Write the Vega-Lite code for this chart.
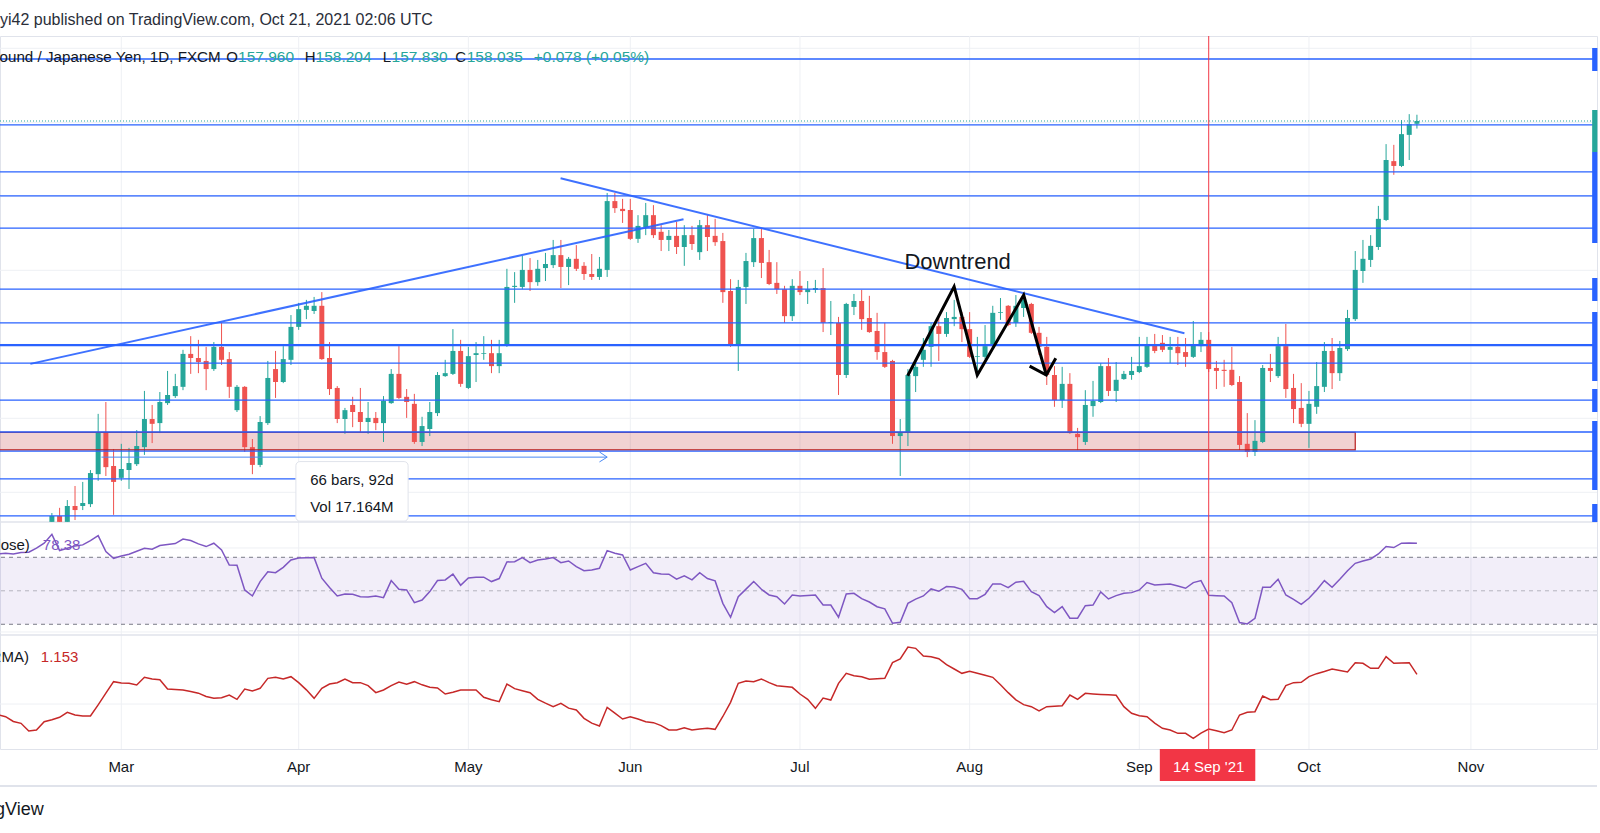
{
"$schema":"https://vega.github.io/schema/vega-lite/v6.json",
"width":1597,"height":713,
"autosize":{"type":"none"},
"padding":{"left":0,"top":36,"right":3,"bottom":84},
"background":"white",
"config":{"view":{"stroke":"#e0e3eb"},"font":"Liberation Sans"},
"title":{"text":"yi42 published on TradingView.com, Oct 21, 2021 02:06 UTC","anchor":"start","frame":"group","orient":"top","offset":0,"baseline":"middle","fontSize":16,"fontWeight":"normal","font":"Liberation Sans","color":"#2a2e39"},
"resolve":{"scale":{"y":"independent"}},
"datasets":{
"months":[{"i":0,"t":"Mar"},{"i":23,"t":"Apr"},{"i":45,"t":"May"},{"i":66,"t":"Jun"},{"i":88,"t":"Jul"},{"i":110,"t":"Aug"},{"i":132,"t":"Sep"},{"i":154,"t":"Oct"},{"i":175,"t":"Nov"}],
"c":[
{"i":-9,"o":147.20,"h":147.44,"l":147.20,"c":147.36},
{"i":-8,"o":147.36,"h":147.58,"l":147.20,"c":147.20},
{"i":-7,"o":147.20,"h":147.79,"l":147.20,"c":147.63},
{"i":-6,"o":147.63,"h":148.17,"l":147.25,"c":147.52},
{"i":-5,"o":147.63,"h":148.28,"l":147.52,"c":147.71},
{"i":-4,"o":147.68,"h":148.60,"l":147.60,"c":148.52},
{"i":-3,"o":148.49,"h":150.12,"l":148.31,"c":149.63},
{"i":-2,"o":149.63,"h":150.44,"l":148.44,"c":148.68},
{"i":-1,"o":148.71,"h":149.17,"l":147.39,"c":148.28},
{"i":0,"o":148.39,"h":149.31,"l":148.31,"c":148.63},
{"i":1,"o":148.60,"h":149.20,"l":148.09,"c":148.79},
{"i":2,"o":148.76,"h":149.68,"l":148.71,"c":149.25},
{"i":3,"o":149.22,"h":150.74,"l":149.01,"c":149.98},
{"i":4,"o":149.98,"h":150.36,"l":149.33,"c":149.85},
{"i":5,"o":149.87,"h":150.71,"l":149.60,"c":150.44},
{"i":6,"o":150.41,"h":151.28,"l":150.36,"c":150.63},
{"i":7,"o":150.60,"h":151.20,"l":150.55,"c":150.87},
{"i":8,"o":150.85,"h":151.85,"l":150.76,"c":151.74},
{"i":9,"o":151.74,"h":152.22,"l":151.20,"c":151.63},
{"i":10,"o":151.63,"h":152.12,"l":151.22,"c":151.52},
{"i":11,"o":151.55,"h":151.93,"l":150.76,"c":151.33},
{"i":12,"o":151.33,"h":152.06,"l":151.28,"c":151.93},
{"i":13,"o":151.93,"h":152.58,"l":151.44,"c":151.58},
{"i":14,"o":151.60,"h":151.79,"l":150.55,"c":150.85},
{"i":15,"o":150.22,"h":150.90,"l":150.17,"c":150.85},
{"i":16,"o":150.85,"h":150.87,"l":149.09,"c":149.22},
{"i":17,"o":149.22,"h":149.44,"l":148.49,"c":148.74},
{"i":18,"o":148.74,"h":150.06,"l":148.68,"c":149.90},
{"i":19,"o":149.87,"h":151.55,"l":149.82,"c":151.09},
{"i":20,"o":151.33,"h":151.82,"l":150.55,"c":150.98},
{"i":21,"o":150.98,"h":151.95,"l":150.95,"c":151.60},
{"i":22,"o":151.58,"h":152.79,"l":151.44,"c":152.47},
{"i":23,"o":152.47,"h":153.12,"l":152.39,"c":152.95},
{"i":24,"o":152.93,"h":153.20,"l":152.68,"c":153.04},
{"i":25,"o":152.90,"h":153.28,"l":152.82,"c":153.04},
{"i":26,"o":153.04,"h":153.41,"l":151.58,"c":151.60},
{"i":27,"o":151.63,"h":152.06,"l":150.63,"c":150.79},
{"i":28,"o":150.82,"h":150.87,"l":149.87,"c":149.98},
{"i":29,"o":149.98,"h":150.28,"l":149.58,"c":150.22},
{"i":30,"o":150.36,"h":150.58,"l":149.76,"c":150.17},
{"i":31,"o":150.17,"h":150.82,"l":149.63,"c":149.90},
{"i":32,"o":149.90,"h":150.44,"l":149.58,"c":150.01},
{"i":33,"o":150.01,"h":150.17,"l":149.68,"c":149.87},
{"i":34,"o":149.87,"h":150.60,"l":149.36,"c":150.47},
{"i":35,"o":150.41,"h":151.33,"l":150.39,"c":151.20},
{"i":36,"o":151.20,"h":151.95,"l":150.52,"c":150.55},
{"i":37,"o":150.58,"h":150.79,"l":150.01,"c":150.44},
{"i":38,"o":150.39,"h":150.66,"l":149.31,"c":149.36},
{"i":39,"o":149.36,"h":150.04,"l":149.25,"c":149.79},
{"i":40,"o":149.71,"h":150.44,"l":149.52,"c":150.17},
{"i":41,"o":150.14,"h":151.25,"l":150.06,"c":151.17},
{"i":42,"o":151.14,"h":151.58,"l":151.12,"c":151.22},
{"i":43,"o":151.20,"h":152.41,"l":151.17,"c":151.82},
{"i":44,"o":151.82,"h":152.12,"l":150.85,"c":150.93},
{"i":45,"o":150.82,"h":151.93,"l":150.79,"c":151.68},
{"i":46,"o":151.71,"h":152.06,"l":150.98,"c":151.76},
{"i":47,"o":151.74,"h":152.22,"l":151.58,"c":151.76},
{"i":48,"o":151.76,"h":152.12,"l":151.22,"c":151.41},
{"i":49,"o":151.41,"h":152.12,"l":151.22,"c":151.76},
{"i":50,"o":151.98,"h":154.04,"l":151.93,"c":153.55},
{"i":51,"o":153.55,"h":153.95,"l":153.12,"c":153.58},
{"i":52,"o":153.55,"h":154.39,"l":153.49,"c":154.01},
{"i":53,"o":154.01,"h":154.33,"l":153.44,"c":153.68},
{"i":54,"o":153.68,"h":154.28,"l":153.58,"c":154.04},
{"i":55,"o":154.06,"h":154.47,"l":153.71,"c":154.17},
{"i":56,"o":154.14,"h":154.82,"l":154.06,"c":154.41},
{"i":57,"o":154.41,"h":154.82,"l":153.52,"c":154.09},
{"i":58,"o":154.09,"h":154.36,"l":153.60,"c":154.31},
{"i":59,"o":154.31,"h":154.68,"l":153.98,"c":154.04},
{"i":60,"o":154.12,"h":154.22,"l":153.74,"c":153.90},
{"i":61,"o":153.90,"h":154.44,"l":153.74,"c":153.82},
{"i":62,"o":153.82,"h":154.36,"l":153.74,"c":154.04},
{"i":63,"o":154.01,"h":156.09,"l":153.82,"c":155.87},
{"i":64,"o":155.87,"h":156.09,"l":155.55,"c":155.68},
{"i":65,"o":155.66,"h":155.93,"l":155.28,"c":155.60},
{"i":66,"o":155.63,"h":155.93,"l":154.82,"c":154.85},
{"i":67,"o":154.85,"h":155.49,"l":154.74,"c":155.20},
{"i":68,"o":155.17,"h":155.82,"l":154.95,"c":155.49},
{"i":69,"o":155.49,"h":155.76,"l":154.87,"c":154.95},
{"i":70,"o":155.04,"h":155.22,"l":154.52,"c":154.82},
{"i":71,"o":154.82,"h":155.09,"l":154.52,"c":154.93},
{"i":72,"o":154.93,"h":155.31,"l":154.44,"c":154.63},
{"i":73,"o":154.63,"h":155.22,"l":154.12,"c":154.95},
{"i":74,"o":154.95,"h":155.20,"l":154.55,"c":154.71},
{"i":75,"o":154.49,"h":155.36,"l":154.28,"c":155.22},
{"i":76,"o":155.22,"h":155.49,"l":154.52,"c":154.90},
{"i":77,"o":154.93,"h":155.39,"l":154.66,"c":154.76},
{"i":78,"o":154.79,"h":155.01,"l":153.12,"c":153.41},
{"i":79,"o":153.44,"h":153.76,"l":151.93,"c":151.98},
{"i":80,"o":151.98,"h":153.74,"l":151.28,"c":153.55},
{"i":81,"o":153.55,"h":154.47,"l":153.09,"c":154.25},
{"i":82,"o":154.22,"h":155.12,"l":154.09,"c":154.87},
{"i":83,"o":154.87,"h":155.12,"l":153.79,"c":154.20},
{"i":84,"o":154.22,"h":154.55,"l":153.60,"c":153.63},
{"i":85,"o":153.66,"h":154.22,"l":153.36,"c":153.49},
{"i":86,"o":153.49,"h":153.58,"l":152.58,"c":152.76},
{"i":87,"o":152.76,"h":153.76,"l":152.63,"c":153.58},
{"i":88,"o":153.58,"h":153.98,"l":153.33,"c":153.41},
{"i":89,"o":153.41,"h":153.71,"l":153.09,"c":153.49},
{"i":90,"o":153.47,"h":153.74,"l":153.39,"c":153.52},
{"i":91,"o":153.52,"h":154.06,"l":152.33,"c":152.58},
{"i":92,"o":152.58,"h":153.17,"l":152.25,"c":152.60},
{"i":93,"o":152.58,"h":152.74,"l":150.63,"c":151.17},
{"i":94,"o":151.17,"h":153.12,"l":151.09,"c":153.09},
{"i":95,"o":153.01,"h":153.36,"l":152.79,"c":153.17},
{"i":96,"o":153.17,"h":153.47,"l":152.39,"c":152.68},
{"i":97,"o":152.71,"h":153.31,"l":152.31,"c":152.33},
{"i":98,"o":152.36,"h":152.85,"l":151.58,"c":151.79},
{"i":99,"o":151.79,"h":152.58,"l":151.36,"c":151.39},
{"i":100,"o":151.55,"h":151.58,"l":149.31,"c":149.52},
{"i":101,"o":149.52,"h":149.98,"l":148.44,"c":149.60},
{"i":102,"o":149.63,"h":151.33,"l":149.25,"c":151.17},
{"i":103,"o":151.14,"h":151.52,"l":150.71,"c":151.39},
{"i":104,"o":151.58,"h":152.17,"l":151.39,"c":151.85},
{"i":105,"o":151.93,"h":152.58,"l":151.39,"c":152.49},
{"i":106,"o":152.49,"h":152.74,"l":151.55,"c":152.28},
{"i":107,"o":152.28,"h":152.87,"l":152.20,"c":152.71},
{"i":108,"o":152.68,"h":153.20,"l":152.49,"c":152.74},
{"i":109,"o":152.74,"h":152.87,"l":152.06,"c":152.41},
{"i":110,"o":152.41,"h":152.87,"l":151.63,"c":151.66},
{"i":111,"o":151.66,"h":152.20,"l":151.28,"c":151.68},
{"i":112,"o":151.66,"h":152.52,"l":151.60,"c":151.95},
{"i":113,"o":151.95,"h":153.04,"l":151.93,"c":152.85},
{"i":114,"o":152.85,"h":153.25,"l":152.66,"c":152.87},
{"i":115,"o":153.04,"h":153.06,"l":152.49,"c":152.52},
{"i":116,"o":152.58,"h":153.33,"l":152.47,"c":153.04},
{"i":117,"o":152.98,"h":153.39,"l":152.74,"c":153.20},
{"i":118,"o":153.09,"h":153.12,"l":152.28,"c":152.31},
{"i":119,"o":152.31,"h":152.47,"l":151.71,"c":151.93},
{"i":120,"o":151.93,"h":152.20,"l":150.90,"c":151.17},
{"i":121,"o":151.17,"h":151.41,"l":150.31,"c":150.49},
{"i":122,"o":150.49,"h":151.39,"l":150.28,"c":150.93},
{"i":123,"o":150.93,"h":151.22,"l":149.58,"c":149.60},
{"i":124,"o":149.58,"h":149.74,"l":149.14,"c":149.49},
{"i":125,"o":149.36,"h":150.76,"l":149.28,"c":150.36},
{"i":126,"o":150.33,"h":151.01,"l":150.04,"c":150.47},
{"i":127,"o":150.44,"h":151.49,"l":150.41,"c":151.41},
{"i":128,"o":151.41,"h":151.63,"l":150.60,"c":150.74},
{"i":129,"o":150.74,"h":151.52,"l":150.44,"c":151.04},
{"i":130,"o":151.06,"h":151.28,"l":151.04,"c":151.20},
{"i":131,"o":151.17,"h":151.66,"l":151.04,"c":151.28},
{"i":132,"o":151.25,"h":152.20,"l":151.22,"c":151.41},
{"i":133,"o":151.39,"h":152.20,"l":151.36,"c":151.98},
{"i":134,"o":151.98,"h":152.28,"l":151.76,"c":151.82},
{"i":135,"o":152.04,"h":152.25,"l":151.79,"c":151.85},
{"i":136,"o":151.85,"h":152.20,"l":151.49,"c":151.93},
{"i":137,"o":151.93,"h":152.20,"l":151.44,"c":151.76},
{"i":138,"o":151.79,"h":152.17,"l":151.39,"c":151.66},
{"i":139,"o":151.66,"h":152.63,"l":151.63,"c":151.98},
{"i":140,"o":151.95,"h":152.33,"l":151.79,"c":152.12},
{"i":141,"o":152.12,"h":152.33,"l":151.25,"c":151.33},
{"i":142,"o":151.36,"h":151.55,"l":150.79,"c":151.28},
{"i":143,"o":151.31,"h":151.58,"l":150.85,"c":151.28},
{"i":144,"o":151.31,"h":151.93,"l":150.87,"c":150.90},
{"i":145,"o":150.98,"h":151.14,"l":149.14,"c":149.28},
{"i":146,"o":149.31,"h":150.14,"l":148.95,"c":149.09},
{"i":147,"o":149.09,"h":149.95,"l":148.98,"c":149.39},
{"i":148,"o":149.36,"h":151.44,"l":149.33,"c":151.36},
{"i":149,"o":151.36,"h":151.74,"l":150.98,"c":151.28},
{"i":150,"o":151.14,"h":152.20,"l":151.09,"c":151.95},
{"i":151,"o":151.95,"h":152.55,"l":150.55,"c":150.79},
{"i":152,"o":150.82,"h":151.20,"l":149.87,"c":150.25},
{"i":153,"o":150.28,"h":150.95,"l":149.76,"c":149.85},
{"i":154,"o":149.85,"h":150.74,"l":149.20,"c":150.39},
{"i":155,"o":150.31,"h":151.52,"l":150.12,"c":150.87},
{"i":156,"o":150.85,"h":152.06,"l":150.71,"c":151.82},
{"i":157,"o":151.82,"h":152.17,"l":150.79,"c":151.22},
{"i":158,"o":151.22,"h":152.09,"l":151.01,"c":151.90},
{"i":159,"o":151.87,"h":152.93,"l":151.82,"c":152.71},
{"i":160,"o":152.68,"h":154.52,"l":152.63,"c":154.01},
{"i":161,"o":153.98,"h":154.82,"l":153.66,"c":154.31},
{"i":162,"o":154.28,"h":154.95,"l":154.09,"c":154.66},
{"i":163,"o":154.63,"h":155.74,"l":154.55,"c":155.39},
{"i":164,"o":155.36,"h":157.41,"l":155.33,"c":156.98},
{"i":165,"o":156.95,"h":157.39,"l":156.58,"c":156.82},
{"i":166,"o":156.82,"h":158.06,"l":156.79,"c":157.68},
{"i":167,"o":157.66,"h":158.22,"l":156.98,"c":157.95},
{"i":168,"o":157.96,"h":158.204,"l":157.83,"c":158.035}
],
"ind":[
{"i":-16,"r":72.0,"a":0.91},{"i":-15,"r":72.4,"a":0.899},{"i":-14,"r":72.0,"a":0.87},{"i":-13,"r":72.8,"a":0.859},{"i":-12,"r":73.0,"a":0.813},{"i":-11,"r":75.5,"a":0.819},{"i":-10,"r":78.4,"a":0.869},{"i":-9,"r":83.7,"a":0.88},{"i":-8,"r":74.0,"a":0.895},{"i":-7,"r":75.4,"a":0.925},{"i":-6,"r":76.8,"a":0.909},{"i":-5,"r":77.4,"a":0.903},{"i":-4,"r":80.0,"a":0.903},{"i":-3,"r":82.9,"a":0.97},{"i":-2,"r":73.4,"a":1.04},{"i":-1,"r":69.4,"a":1.109},
{"i":0,"r":70.8,"a":1.101},{"i":1,"r":71.8,"a":1.099},{"i":2,"r":73.6,"a":1.089},{"i":3,"r":75.4,"a":1.135},{"i":4,"r":74.8,"a":1.125},{"i":5,"r":77.0,"a":1.12},{"i":6,"r":77.6,"a":1.065},{"i":7,"r":78.2,"a":1.062},{"i":8,"r":80.9,"a":1.059},{"i":9,"r":80.0,"a":1.05},{"i":10,"r":78.0,"a":1.04},{"i":11,"r":76.4,"a":1.02},{"i":12,"r":78.4,"a":1.009},{"i":13,"r":74.4,"a":1.013},{"i":14,"r":65.4,"a":1.029},{"i":15,"r":65.2,"a":1.003},{"i":16,"r":50.5,"a":1.065},{"i":17,"r":46.9,"a":1.053},{"i":18,"r":55.5,"a":1.069},{"i":19,"r":61.4,"a":1.129},
{"i":20,"r":60.8,"a":1.135},{"i":21,"r":64.0,"a":1.125},{"i":22,"r":68.4,"a":1.139},{"i":23,"r":69.6,"a":1.103},{"i":24,"r":69.7,"a":1.06},{"i":25,"r":69.8,"a":1.009},{"i":26,"r":57.5,"a":1.069},{"i":27,"r":52.0,"a":1.095},{"i":28,"r":46.9,"a":1.103},{"i":29,"r":48.1,"a":1.125},{"i":30,"r":47.9,"a":1.103},{"i":31,"r":46.5,"a":1.103},{"i":32,"r":46.3,"a":1.085},{"i":33,"r":46.9,"a":1.043},{"i":34,"r":45.9,"a":1.059},{"i":35,"r":56.1,"a":1.085},{"i":36,"r":50.9,"a":1.107},{"i":37,"r":50.5,"a":1.093},{"i":38,"r":42.9,"a":1.109},{"i":39,"r":44.5,"a":1.09},
{"i":40,"r":49.5,"a":1.075},{"i":41,"r":56.1,"a":1.071},{"i":42,"r":56.5,"a":1.035},{"i":43,"r":60.0,"a":1.045},{"i":44,"r":53.3,"a":1.059},{"i":45,"r":57.7,"a":1.059},{"i":46,"r":58.1,"a":1.059},{"i":47,"r":58.1,"a":1.015},{"i":48,"r":55.5,"a":1.0},{"i":49,"r":57.3,"a":0.989},{"i":50,"r":67.2,"a":1.095},{"i":51,"r":67.4,"a":1.067},{"i":52,"r":69.8,"a":1.055},{"i":53,"r":66.8,"a":1.043},{"i":54,"r":68.4,"a":1.003},{"i":55,"r":69.0,"a":0.98},{"i":56,"r":69.8,"a":0.959},{"i":57,"r":66.8,"a":0.979},{"i":58,"r":67.8,"a":0.95},{"i":59,"r":64.4,"a":0.939},
{"i":60,"r":62.0,"a":0.889},{"i":61,"r":62.4,"a":0.86},{"i":62,"r":63.4,"a":0.843},{"i":63,"r":74.0,"a":0.955},{"i":64,"r":72.4,"a":0.92},{"i":65,"r":71.4,"a":0.885},{"i":66,"r":62.4,"a":0.899},{"i":67,"r":64.4,"a":0.885},{"i":68,"r":66.4,"a":0.869},{"i":69,"r":60.8,"a":0.863},{"i":70,"r":60.0,"a":0.845},{"i":71,"r":59.9,"a":0.819},{"i":72,"r":56.9,"a":0.819},{"i":73,"r":58.9,"a":0.833},{"i":74,"r":56.5,"a":0.819},{"i":75,"r":60.8,"a":0.825},{"i":76,"r":57.3,"a":0.829},{"i":77,"r":55.9,"a":0.823},{"i":78,"r":42.5,"a":0.9},{"i":79,"r":34.2,"a":0.985},
{"i":80,"r":46.5,"a":1.099},{"i":81,"r":51.0,"a":1.113},{"i":82,"r":55.5,"a":1.109},{"i":83,"r":50.9,"a":1.125},{"i":84,"r":47.5,"a":1.103},{"i":85,"r":46.5,"a":1.085},{"i":86,"r":42.1,"a":1.08},{"i":87,"r":47.5,"a":1.075},{"i":88,"r":46.9,"a":1.035},{"i":89,"r":47.2,"a":1.003},{"i":90,"r":47.5,"a":0.949},{"i":91,"r":41.5,"a":1.011},{"i":92,"r":41.5,"a":0.999},{"i":93,"r":34.2,"a":1.099},{"i":94,"r":48.1,"a":1.159},{"i":95,"r":48.5,"a":1.145},{"i":96,"r":45.3,"a":1.139},{"i":97,"r":43.3,"a":1.123},{"i":98,"r":40.5,"a":1.126},{"i":99,"r":39.2,"a":1.129},
{"i":100,"r":30.6,"a":1.223},{"i":101,"r":31.2,"a":1.245},{"i":102,"r":42.5,"a":1.317},{"i":103,"r":45.0,"a":1.309},{"i":104,"r":46.9,"a":1.263},{"i":105,"r":51.1,"a":1.259},{"i":106,"r":49.7,"a":1.247},{"i":107,"r":52.5,"a":1.211},{"i":108,"r":52.3,"a":1.185},{"i":109,"r":50.9,"a":1.159},{"i":110,"r":45.3,"a":1.171},{"i":111,"r":45.3,"a":1.159},{"i":112,"r":47.9,"a":1.147},{"i":113,"r":54.1,"a":1.135},{"i":114,"r":54.1,"a":1.09},{"i":115,"r":51.9,"a":1.043},{"i":116,"r":55.1,"a":1.0},{"i":117,"r":55.7,"a":0.971},{"i":118,"r":49.5,"a":0.959},{"i":119,"r":47.1,"a":0.933},
{"i":120,"r":40.5,"a":0.959},{"i":121,"r":37.0,"a":0.962},{"i":122,"r":40.5,"a":0.965},{"i":123,"r":33.6,"a":1.029},{"i":124,"r":33.6,"a":1.003},{"i":125,"r":41.1,"a":1.039},{"i":126,"r":41.5,"a":1.035},{"i":127,"r":49.3,"a":1.032},{"i":128,"r":45.1,"a":1.03},{"i":129,"r":47.1,"a":1.027},{"i":130,"r":48.5,"a":0.959},{"i":131,"r":48.9,"a":0.919},{"i":132,"r":50.5,"a":0.905},{"i":133,"r":54.9,"a":0.899},{"i":134,"r":53.5,"a":0.86},{"i":135,"r":53.8,"a":0.829},{"i":136,"r":54.1,"a":0.819},{"i":137,"r":52.9,"a":0.799},{"i":138,"r":51.5,"a":0.799},{"i":139,"r":54.9,"a":0.769},
{"i":140,"r":56.1,"a":0.8},{"i":141,"r":47.3,"a":0.825},{"i":142,"r":47.1,"a":0.815},{"i":143,"r":46.9,"a":0.803},{"i":144,"r":42.9,"a":0.819},{"i":145,"r":31.0,"a":0.909},{"i":146,"r":30.2,"a":0.925},{"i":147,"r":33.6,"a":0.929},{"i":148,"r":52.1,"a":1.023},{"i":149,"r":52.1,"a":1.001},{"i":150,"r":56.9,"a":1.003},{"i":151,"r":47.5,"a":1.085},{"i":152,"r":44.9,"a":1.103},{"i":153,"r":41.9,"a":1.105},{"i":154,"r":45.5,"a":1.139},{"i":155,"r":50.5,"a":1.157},{"i":156,"r":56.1,"a":1.17},{"i":157,"r":52.1,"a":1.185},{"i":158,"r":56.9,"a":1.176},{"i":159,"r":62.0,"a":1.167},
{"i":160,"r":66.4,"a":1.223},{"i":161,"r":67.8,"a":1.219},{"i":162,"r":69.0,"a":1.189},{"i":163,"r":72.0,"a":1.189},{"i":164,"r":76.4,"a":1.259},{"i":165,"r":75.8,"a":1.219},{"i":166,"r":78.4,"a":1.221},{"i":167,"r":78.6,"a":1.223},{"i":168,"r":78.38,"a":1.153}
]
},
"layer":[
{"data":{"name":"months"},
 "mark":{"type":"rule","color":"#eef0f4","strokeWidth":1},
 "encoding":{"x":{"field":"i","type":"quantitative","scale":{"domain":[-15.08,190.7],"nice":false,"zero":false},"axis":null}}},
{"data":{"values":[{"p":148},{"p":150},{"p":152},{"p":154},{"p":156},{"p":158},{"p":160}]},
 "mark":{"type":"rule","color":"#eef0f4","strokeWidth":1},
 "encoding":{"y":{"field":"p","type":"quantitative","scale":{"domain":[147.197,160.332],"range":[486,0],"nice":false,"zero":false},"axis":null}}},
{"data":{"values":[{"hi":70,"lo":30}]},
 "mark":{"type":"rect","color":"#7e57c2","opacity":0.1},
 "encoding":{"y":{"field":"hi","type":"quantitative","scale":{"domain":[23.6,91.07],"range":[599,486],"nice":false,"zero":false},"axis":null},"y2":{"field":"lo"}}},
{"data":{"values":[{"r":75.55},{"r":25.4}]},
 "mark":{"type":"rule","color":"#eef0f4","strokeWidth":1},
 "encoding":{"y":{"field":"r","type":"quantitative","scale":{"domain":[23.6,91.07],"range":[599,486],"nice":false,"zero":false},"axis":null}}},
{"data":{"values":[{"a":0.975}]},
 "mark":{"type":"rule","color":"#eef0f4","strokeWidth":1},
 "encoding":{"y":{"field":"a","type":"quantitative","scale":{"domain":[0.705,1.389],"range":[713,599],"nice":false,"zero":false},"axis":null}}},
{"data":{"values":[{"r":91.07},{"r":23.6}]},
 "mark":{"type":"rule","color":"#e0e3eb","strokeWidth":1.5},
 "encoding":{"y":{"field":"r","type":"quantitative","scale":{"domain":[23.6,91.07],"range":[599,486],"nice":false,"zero":false},"axis":null}}},
{"data":{"values":[{"r":70},{"r":30}]},
 "mark":{"type":"rule","color":"#787b86","strokeWidth":1,"strokeDash":[4,4]},
 "encoding":{"y":{"field":"r","type":"quantitative","scale":{"domain":[23.6,91.07],"range":[599,486],"nice":false,"zero":false},"axis":null}}},
{"data":{"values":[{"r":50}]},
 "mark":{"type":"rule","color":"#787b86","opacity":0.5,"strokeWidth":1,"strokeDash":[4,4]},
 "encoding":{"y":{"field":"r","type":"quantitative","scale":{"domain":[23.6,91.07],"range":[599,486],"nice":false,"zero":false},"axis":null}}},
{"data":{"values":[{"i":-16,"i2":160,"p1":149.62,"p2":149.145}]},
 "mark":{"type":"rect","color":"#b71c1c","opacity":0.2},
 "encoding":{"x":{"field":"i","type":"quantitative","scale":{"domain":[-15.08,190.7],"nice":false,"zero":false},"axis":null},"x2":{"field":"i2"},
  "y":{"field":"p1","type":"quantitative","scale":{"domain":[147.197,160.332],"range":[486,0],"nice":false,"zero":false},"axis":null},"y2":{"field":"p2"}}},
{"data":{"name":"c"},
 "mark":{"type":"rule","strokeWidth":1},
 "encoding":{"x":{"field":"i","type":"quantitative","scale":{"domain":[-15.08,190.7],"nice":false,"zero":false},"axis":null},
  "y":{"field":"l","type":"quantitative","scale":{"domain":[147.197,160.332],"range":[486,0],"nice":false,"zero":false},"axis":null},"y2":{"field":"h"},
  "color":{"condition":{"test":"datum.c >= datum.o","value":"#26a69a"},"value":"#ef5350"}}},
{"data":{"name":"c"},
 "mark":{"type":"bar","width":5},
 "encoding":{"x":{"field":"i","type":"quantitative","scale":{"domain":[-15.08,190.7],"nice":false,"zero":false},"axis":null},
  "y":{"field":"o","type":"quantitative","scale":{"domain":[147.197,160.332],"range":[486,0],"nice":false,"zero":false},"axis":null},"y2":{"field":"c"},
  "color":{"condition":{"test":"datum.c >= datum.o","value":"#26a69a"},"value":"#ef5350"}}},
{"data":{"values":[{"i":-16,"i2":160,"p1":149.62,"p2":149.145}]},
 "mark":{"type":"rect","fill":null,"fillOpacity":0,"stroke":"#b71c1c","strokeWidth":1.2},
 "encoding":{"x":{"field":"i","type":"quantitative","scale":{"domain":[-15.08,190.7],"nice":false,"zero":false},"axis":null},"x2":{"field":"i2"},
  "y":{"field":"p1","type":"quantitative","scale":{"domain":[147.197,160.332],"range":[486,0],"nice":false,"zero":false},"axis":null},"y2":{"field":"p2"}}},
{"data":{"values":[{"p":159.71},{"p":157.93},{"p":156.66},{"p":156.01},{"p":155.14},{"p":153.49},{"p":152.58},{"p":151.49},{"p":150.49},{"p":149.63},{"p":149.115},{"p":148.36},{"p":147.36}]},
 "mark":{"type":"rule","color":"#2962ff","strokeWidth":1.3},
 "encoding":{"y":{"field":"p","type":"quantitative","scale":{"domain":[147.197,160.332],"range":[486,0],"nice":false,"zero":false},"axis":null}}},
{"data":{"values":[{"p":151.98}]},
 "mark":{"type":"rule","color":"#2962ff","strokeWidth":2.2},
 "encoding":{"y":{"field":"p","type":"quantitative","scale":{"domain":[147.197,160.332],"range":[486,0],"nice":false,"zero":false},"axis":null}}},
{"data":{"values":[{"p":158.035}]},
 "mark":{"type":"rule","color":"#26a69a","strokeWidth":1,"strokeDash":[1,2]},
 "encoding":{"y":{"field":"p","type":"quantitative","scale":{"domain":[147.197,160.332],"range":[486,0],"nice":false,"zero":false},"axis":null}}},
{"data":{"values":[{"i":190.72,"i2":191.4,"p1":160.008,"p2":159.386},{"i":190.72,"i2":191.4,"p1":157.197,"p2":154.737},{"i":190.72,"i2":191.4,"p1":153.791,"p2":153.170},{"i":190.72,"i2":191.4,"p1":152.873,"p2":151.008},{"i":190.72,"i2":191.4,"p1":150.791,"p2":150.170},{"i":190.72,"i2":191.4,"p1":149.927,"p2":148.062},{"i":190.72,"i2":191.4,"p1":147.683,"p2":147.197}]},
 "mark":{"type":"rect","color":"#2962ff"},
 "encoding":{"x":{"field":"i","type":"quantitative","scale":{"domain":[-15.08,190.7],"nice":false,"zero":false},"axis":null},"x2":{"field":"i2"},
  "y":{"field":"p1","type":"quantitative","scale":{"domain":[147.197,160.332],"range":[486,0],"nice":false,"zero":false},"axis":null},"y2":{"field":"p2"}}},
{"data":{"values":[{"i":190.72,"i2":191.4,"p1":158.332,"p2":157.197}]},
 "mark":{"type":"rect","color":"#26a69a"},
 "encoding":{"x":{"field":"i","type":"quantitative","scale":{"domain":[-15.08,190.7],"nice":false,"zero":false},"axis":null},"x2":{"field":"i2"},
  "y":{"field":"p1","type":"quantitative","scale":{"domain":[147.197,160.332],"range":[486,0],"nice":false,"zero":false},"axis":null},"y2":{"field":"p2"}}},
{"data":{"values":[{"id":"a","i":-11.79,"p":151.47},{"id":"a","i":72.9,"p":155.38},{"id":"b","i":56.96,"p":156.49},{"id":"b","i":137.85,"p":152.30}]},
 "mark":{"type":"line","color":"#2962ff","strokeWidth":2,"opacity":0.9},
 "encoding":{"x":{"field":"i","type":"quantitative","scale":{"domain":[-15.08,190.7],"nice":false,"zero":false},"axis":null},
  "y":{"field":"p","type":"quantitative","scale":{"domain":[147.197,160.332],"range":[486,0],"nice":false,"zero":false},"axis":null},"detail":{"field":"id"}}},
{"data":{"values":[{"id":"z","k":1,"i":101.97,"p":151.15},{"id":"z","k":2,"i":107.99,"p":153.56},{"id":"z","k":3,"i":110.99,"p":151.17},{"id":"z","k":4,"i":117.01,"p":153.33},{"id":"z","k":5,"i":119.94,"p":151.17},{"id":"h","k":1,"i":117.78,"p":151.41},{"id":"h","k":2,"i":119.94,"p":151.17},{"id":"h","k":3,"i":121.17,"p":151.62}]},
 "mark":{"type":"line","color":"#000000","strokeWidth":3,"strokeJoin":"miter"},
 "encoding":{"x":{"field":"i","type":"quantitative","scale":{"domain":[-15.08,190.7],"nice":false,"zero":false},"axis":null},
  "y":{"field":"p","type":"quantitative","scale":{"domain":[147.197,160.332],"range":[486,0],"nice":false,"zero":false},"axis":null},"detail":{"field":"id"},"order":{"field":"k"}}},
{"data":{"values":[{"id":"l","k":1,"i":-2.58,"p":148.95},{"id":"l","k":2,"i":63.0,"p":148.95},{"id":"h","k":1,"i":62.0,"p":149.09},{"id":"h","k":2,"i":63.0,"p":148.95},{"id":"h","k":3,"i":62.0,"p":148.82}]},
 "mark":{"type":"line","color":"#4a8af4","strokeWidth":1},
 "encoding":{"x":{"field":"i","type":"quantitative","scale":{"domain":[-15.08,190.7],"nice":false,"zero":false},"axis":null},
  "y":{"field":"p","type":"quantitative","scale":{"domain":[147.197,160.332],"range":[486,0],"nice":false,"zero":false},"axis":null},"detail":{"field":"id"},"order":{"field":"k"}}},
{"data":{"values":[{"i":22.64,"i2":37.19,"p1":148.83,"p2":147.22}]},
 "mark":{"type":"rect","fill":"#ffffff","stroke":"#e0e3eb","strokeWidth":1,"cornerRadius":4},
 "encoding":{"x":{"field":"i","type":"quantitative","scale":{"domain":[-15.08,190.7],"nice":false,"zero":false},"axis":null},"x2":{"field":"i2"},
  "y":{"field":"p1","type":"quantitative","scale":{"domain":[147.197,160.332],"range":[486,0],"nice":false,"zero":false},"axis":null},"y2":{"field":"p2"}}},
{"data":{"values":[{"i":29.9,"p":148.33,"t":"66 bars, 92d"},{"i":29.9,"p":147.60,"t":"Vol 17.164M"}]},
 "mark":{"type":"text","font":"Liberation Sans","fontSize":15,"color":"#131722","align":"center","baseline":"middle"},
 "encoding":{"x":{"field":"i","type":"quantitative","scale":{"domain":[-15.08,190.7],"nice":false,"zero":false},"axis":null},
  "y":{"field":"p","type":"quantitative","scale":{"domain":[147.197,160.332],"range":[486,0],"nice":false,"zero":false},"axis":null},"text":{"field":"t"}}},
{"data":{"values":[{"i":101.55,"p":154.035,"t":"Downtrend"}]},
 "mark":{"type":"text","font":"Liberation Sans","fontSize":22,"color":"#131722","align":"left","baseline":"alphabetic"},
 "encoding":{"x":{"field":"i","type":"quantitative","scale":{"domain":[-15.08,190.7],"nice":false,"zero":false},"axis":null},
  "y":{"field":"p","type":"quantitative","scale":{"domain":[147.197,160.332],"range":[486,0],"nice":false,"zero":false},"axis":null},"text":{"field":"t"}}},
{"data":{"values":[{"i":12.89,"p":159.76,"t":"British Pound / Japanese Yen, 1D, FXCM"}]},
 "mark":{"type":"text","font":"Liberation Sans","fontSize":15.2,"color":"#131722","align":"right","baseline":"middle"},
 "encoding":{"x":{"field":"i","type":"quantitative","scale":{"domain":[-15.08,190.7],"nice":false,"zero":false},"axis":null},
  "y":{"field":"p","type":"quantitative","scale":{"domain":[147.197,160.332],"range":[486,0],"nice":false,"zero":false},"axis":null},"text":{"field":"t"}}},
{"data":{"values":[{"i":13.6,"p":159.76,"t":"O"},{"i":23.78,"p":159.76,"t":"H"},{"i":33.89,"p":159.76,"t":"L"},{"i":43.3,"p":159.76,"t":"C"}]},
 "mark":{"type":"text","font":"Liberation Sans","fontSize":15,"color":"#131722","align":"left","baseline":"middle"},
 "encoding":{"x":{"field":"i","type":"quantitative","scale":{"domain":[-15.08,190.7],"nice":false,"zero":false},"axis":null},
  "y":{"field":"p","type":"quantitative","scale":{"domain":[147.197,160.332],"range":[486,0],"nice":false,"zero":false},"axis":null},"text":{"field":"t"}}},
{"data":{"values":[{"i":15.14,"p":159.76,"t":"157.960"},{"i":25.19,"p":159.76,"t":"158.204"},{"i":35.05,"p":159.76,"t":"157.830"},{"i":44.79,"p":159.76,"t":"158.035"},{"i":53.48,"p":159.76,"t":"+0.078 (+0.05%)"}]},
 "mark":{"type":"text","font":"Liberation Sans","fontSize":15.5,"color":"#26a69a","align":"left","baseline":"middle"},
 "encoding":{"x":{"field":"i","type":"quantitative","scale":{"domain":[-15.08,190.7],"nice":false,"zero":false},"axis":null},
  "y":{"field":"p","type":"quantitative","scale":{"domain":[147.197,160.332],"range":[486,0],"nice":false,"zero":false},"axis":null},"text":{"field":"t"}}},
{"data":{"name":"ind"},
 "mark":{"type":"line","color":"#7e57c2","strokeWidth":1.5},
 "encoding":{"x":{"field":"i","type":"quantitative","scale":{"domain":[-15.08,190.7],"nice":false,"zero":false},"axis":null},
  "y":{"field":"r","type":"quantitative","scale":{"domain":[23.6,91.07],"range":[599,486],"nice":false,"zero":false},"axis":null}}},
{"data":{"name":"ind"},
 "mark":{"type":"line","color":"#c62828","strokeWidth":1.5},
 "encoding":{"x":{"field":"i","type":"quantitative","scale":{"domain":[-15.08,190.7],"nice":false,"zero":false},"axis":null},
  "y":{"field":"a","type":"quantitative","scale":{"domain":[0.705,1.389],"range":[713,599],"nice":false,"zero":false},"axis":null}}},
{"data":{"values":[{"i":-11.86,"r":77.3,"t":"RSI (14, close)"}]},
 "mark":{"type":"text","font":"Liberation Sans","fontSize":15,"color":"#131722","align":"right","baseline":"middle"},
 "encoding":{"x":{"field":"i","type":"quantitative","scale":{"domain":[-15.08,190.7],"nice":false,"zero":false},"axis":null},
  "y":{"field":"r","type":"quantitative","scale":{"domain":[23.6,91.07],"range":[599,486],"nice":false,"zero":false},"axis":null},"text":{"field":"t"}}},
{"data":{"values":[{"i":-10.18,"r":77.3,"t":"78.38"}]},
 "mark":{"type":"text","font":"Liberation Sans","fontSize":15,"color":"#7e57c2","align":"left","baseline":"middle"},
 "encoding":{"x":{"field":"i","type":"quantitative","scale":{"domain":[-15.08,190.7],"nice":false,"zero":false},"axis":null},
  "y":{"field":"r","type":"quantitative","scale":{"domain":[23.6,91.07],"range":[599,486],"nice":false,"zero":false},"axis":null},"text":{"field":"t"}}},
{"data":{"values":[{"i":-11.98,"a":1.257,"t":"ATR (14, RMA)"}]},
 "mark":{"type":"text","font":"Liberation Sans","fontSize":15,"color":"#131722","align":"right","baseline":"middle"},
 "encoding":{"x":{"field":"i","type":"quantitative","scale":{"domain":[-15.08,190.7],"nice":false,"zero":false},"axis":null},
  "y":{"field":"a","type":"quantitative","scale":{"domain":[0.705,1.389],"range":[713,599],"nice":false,"zero":false},"axis":null},"text":{"field":"t"}}},
{"data":{"values":[{"i":-10.44,"a":1.257,"t":"1.153"}]},
 "mark":{"type":"text","font":"Liberation Sans","fontSize":15,"color":"#c62828","align":"left","baseline":"middle"},
 "encoding":{"x":{"field":"i","type":"quantitative","scale":{"domain":[-15.08,190.7],"nice":false,"zero":false},"axis":null},
  "y":{"field":"a","type":"quantitative","scale":{"domain":[0.705,1.389],"range":[713,599],"nice":false,"zero":false},"axis":null},"text":{"field":"t"}}},
{"data":{"values":[{"i":141}]},
 "mark":{"type":"rule","color":"#f23645","strokeWidth":1},
 "encoding":{"x":{"field":"i","type":"quantitative","scale":{"domain":[-15.08,190.7],"nice":false,"zero":false},"axis":null}}},
{"data":{"name":"months"},
 "mark":{"type":"text","font":"Liberation Sans","fontSize":15,"color":"#131722","align":"center","baseline":"middle"},
 "encoding":{"x":{"field":"i","type":"quantitative","scale":{"domain":[-15.08,190.7],"nice":false,"zero":false},"axis":null},
  "y":{"datum":0.44,"type":"quantitative","scale":{"domain":[0,1],"range":[745,713],"nice":false,"zero":false},"axis":null},"text":{"field":"t"}}},
{"data":{"values":[{"i":134.66,"i2":147.04,"s1":1,"s2":0}]},
 "mark":{"type":"rect","color":"#f23645"},
 "encoding":{"x":{"field":"i","type":"quantitative","scale":{"domain":[-15.08,190.7],"nice":false,"zero":false},"axis":null},"x2":{"field":"i2"},
  "y":{"field":"s1","type":"quantitative","scale":{"domain":[0,1],"range":[745,713],"nice":false,"zero":false},"axis":null},"y2":{"field":"s2"}}},
{"data":{"values":[{"i":141,"s":0.44,"t":"14 Sep '21"}]},
 "mark":{"type":"text","font":"Liberation Sans","fontSize":15,"color":"#ffffff","align":"center","baseline":"middle"},
 "encoding":{"x":{"field":"i","type":"quantitative","scale":{"domain":[-15.08,190.7],"nice":false,"zero":false},"axis":null},
  "y":{"field":"s","type":"quantitative","scale":{"domain":[0,1],"range":[745,713],"nice":false,"zero":false},"axis":null},"text":{"field":"t"}}},
{"data":{"values":[{"s":-0.156}]},
 "mark":{"type":"rule","color":"#e0e3eb","strokeWidth":2},
 "encoding":{"y":{"field":"s","type":"quantitative","scale":{"domain":[0,1],"range":[745,713],"nice":false,"zero":false},"axis":null}}},
{"data":{"values":[{"i":-10.05,"s":-0.906,"t":"TradingView"}]},
 "mark":{"type":"text","font":"Liberation Sans","fontSize":18,"color":"#131722","align":"right","baseline":"middle"},
 "encoding":{"x":{"field":"i","type":"quantitative","scale":{"domain":[-15.08,190.7],"nice":false,"zero":false},"axis":null},
  "y":{"field":"s","type":"quantitative","scale":{"domain":[0,1],"range":[745,713],"nice":false,"zero":false},"axis":null},"text":{"field":"t"}}}
]
}
